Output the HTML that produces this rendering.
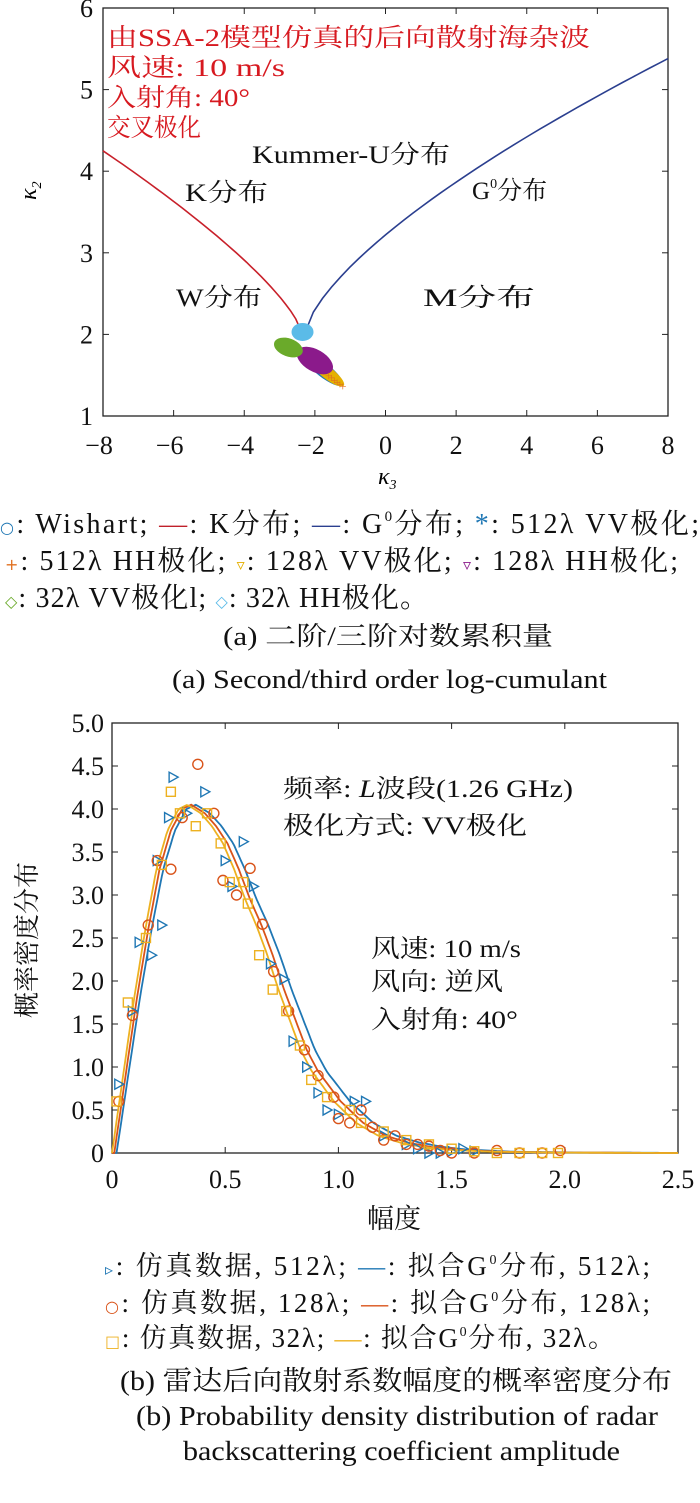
<!DOCTYPE html>
<html><head><meta charset="utf-8"><style>
html,body{margin:0;padding:0;background:#fff;}
body{width:700px;height:1498px;overflow:hidden;position:relative;font-family:"Liberation Serif","Noto Serif CJK SC",serif;}
svg text{font-family:"Liberation Serif","Noto Serif CJK SC",serif;}
.m{font-family:"DejaVu Sans",sans-serif;font-size:16px;}
</style></head><body>
<svg id="s" width="700" height="1498" xmlns="http://www.w3.org/2000/svg">
<g id="top"></g><g id="bot"></g>
<g fill="#d71920" font-size="25">
<text x="107" y="46" textLength="483" lengthAdjust="spacingAndGlyphs">由SSA-2模型仿真的后向散射海杂波</text>
<text x="107" y="76" textLength="178" lengthAdjust="spacingAndGlyphs">风速: 10 m/s</text>
<text x="107" y="106" textLength="143" lengthAdjust="spacingAndGlyphs">入射角: 40°</text>
<text x="107" y="136" textLength="94" lengthAdjust="spacingAndGlyphs">交叉极化</text>
</g>
<g fill="#111" font-size="25">
<text x="252" y="163" textLength="198" lengthAdjust="spacingAndGlyphs">Kummer-U分布</text>
<text x="185" y="201" textLength="83" lengthAdjust="spacingAndGlyphs">K分布</text>
<text x="472" y="199">G<tspan font-size="14" dy="-11">0</tspan><tspan dy="11">分布</tspan></text>
<text x="176" y="306" textLength="86" lengthAdjust="spacingAndGlyphs">W分布</text>
<text x="423" y="306" textLength="112" lengthAdjust="spacingAndGlyphs">M分布</text>
</g>
<text x="20" y="200" font-size="24" font-style="italic" transform="rotate(-90 28 192)">κ<tspan font-size="14" dy="5">2</tspan></text>
<text x="378" y="484" font-size="24" font-style="italic">κ<tspan font-size="14" dy="5">3</tspan></text>
<g font-size="28" fill="#111">
<text x="0" y="533" textLength="699" lengthAdjust="spacing"><tspan class="m" fill="#1f77b4">○</tspan>: Wishart; <tspan fill="#c0202a">—</tspan>: K分布; <tspan fill="#2b3f8f">—</tspan>: G<tspan font-size="15" dy="-12">0</tspan><tspan dy="12">分布; </tspan><tspan fill="#1f77b4">*</tspan>: 512λ VV极化;</text>
<text x="5" y="570" textLength="673" lengthAdjust="spacing"><tspan class="m" fill="#e07020">+</tspan>: 512λ HH极化; <tspan class="m" fill="#e5b000">▿</tspan>: 128λ VV极化; <tspan class="m" fill="#8b1a8b">▿</tspan>: 128λ HH极化;</text>
<text x="5" y="607" textLength="423" lengthAdjust="spacing"><tspan class="m" fill="#6aaa2a">◇</tspan>: 32λ VV极化l; <tspan class="m" fill="#5bbbe8">◇</tspan>: 32λ HH极化。</text>
<text x="223" y="645" font-size="26" textLength="330" lengthAdjust="spacingAndGlyphs">(a) 二阶/三阶对数累积量</text>
<text x="172" y="688" font-size="26" textLength="435" lengthAdjust="spacingAndGlyphs">(a) Second/third order log-cumulant</text>
</g>
<g fill="#111" font-size="25">
<text x="283" y="797" textLength="290" lengthAdjust="spacingAndGlyphs">频率: <tspan font-style="italic">L</tspan>波段(1.26 GHz)</text>
<text x="283" y="834" textLength="244" lengthAdjust="spacingAndGlyphs">极化方式: VV极化</text>
<text x="371" y="957" textLength="150" lengthAdjust="spacingAndGlyphs">风速: 10 m/s</text>
<text x="371" y="990" textLength="132" lengthAdjust="spacingAndGlyphs">风向: 逆风</text>
<text x="371" y="1028" textLength="147" lengthAdjust="spacingAndGlyphs">入射角: 40°</text>
<text x="394" y="1228" text-anchor="middle" font-size="27">幅度</text>
<text x="36" y="940" text-anchor="middle" font-size="26" transform="rotate(-90 36 940)">概率密度分布</text>
</g>
<g font-size="27" fill="#111">
<text x="105" y="1275" textLength="545" lengthAdjust="spacing"><tspan class="m" fill="#1f77b4">▹</tspan>: 仿真数据, 512λ; <tspan fill="#1f77b4">—</tspan>: 拟合G<tspan font-size="14" dy="-11">0</tspan><tspan dy="11">分布, 512λ;</tspan></text>
<text x="105" y="1312" textLength="545" lengthAdjust="spacing"><tspan class="m" fill="#d95319">○</tspan>: 仿真数据, 128λ; <tspan fill="#d95319">—</tspan>: 拟合G<tspan font-size="14" dy="-11">0</tspan><tspan dy="11">分布, 128λ;</tspan></text>
<text x="105" y="1347" textLength="510" lengthAdjust="spacing"><tspan class="m" fill="#edb120">□</tspan>: 仿真数据, 32λ; <tspan fill="#edb120">—</tspan>: 拟合G<tspan font-size="14" dy="-11">0</tspan><tspan dy="11">分布, 32λ。</tspan></text>
<text x="120" y="1390" textLength="552" lengthAdjust="spacingAndGlyphs">(b) 雷达后向散射系数幅度的概率密度分布</text>
<text x="136" y="1425" textLength="522" lengthAdjust="spacingAndGlyphs">(b) Probability density distribution of radar</text>
<text x="183" y="1460" textLength="437" lengthAdjust="spacingAndGlyphs">backscattering coefficient amplitude</text>
</g>
</svg>
<script>
var NS="http://www.w3.org/2000/svg";
function el(p,t,a){var e=document.createElementNS(NS,t);for(var k in a)e.setAttribute(k,a[k]);p.appendChild(e);return e;}
var T=document.getElementById("top");
var X0=103,X1=668,Y0=416,Y1=8;
function tx(v){return X0+(v+8)/16*(X1-X0);} function ty(v){return Y0-(v-1)/5*(Y0-Y1);}
el(T,"rect",{x:X0,y:Y1,width:X1-X0,height:Y0-Y1,fill:"none",stroke:"#222","stroke-width":1.3});
for(var v=-8;v<=8;v+=2){var x=tx(v);el(T,"line",{x1:x,y1:Y0,x2:x,y2:Y0-6,stroke:"#222"});el(T,"line",{x1:x,y1:Y1,x2:x,y2:Y1+6,stroke:"#222"});
var t=el(T,"text",{x:x-(v<0?4:0),y:Y0+38,"font-size":26,"text-anchor":"middle",fill:"#111"});t.textContent=(v<0?"−":"")+Math.abs(v);}
for(var v=1;v<=6;v++){var y=ty(v);el(T,"line",{x1:X0,y1:y,x2:X0+6,y2:y,stroke:"#222"});el(T,"line",{x1:X1,y1:y,x2:X1-6,y2:y,stroke:"#222"});
var t=el(T,"text",{x:X0-10,y:y+9,"font-size":26,"text-anchor":"end",fill:"#111"});t.textContent=v;}
var d="";for(var i=0;i<=40;i++){var u=i/40;var k3=-8+u*5.6;var k2=2.05+2.2*Math.pow(1-u,0.75);d+=(i?"L":"M")+tx(k3).toFixed(1)+","+ty(k2).toFixed(1);}
el(T,"path",{d:d,fill:"none",stroke:"#c8202a","stroke-width":1.6});
d="";for(var i=0;i<=40;i++){var u=i/40;var k3=-2.3+u*10.3;var k2=2.0+3.38*Math.pow(u,0.68);d+=(i?"L":"M")+tx(k3).toFixed(1)+","+ty(k2).toFixed(1);}
el(T,"path",{d:d,fill:"none",stroke:"#2b3f8f","stroke-width":1.6});
function blob(cx,cy,rx,ry,rot,col){el(T,"ellipse",{cx:tx(cx),cy:ty(cy),rx:rx,ry:ry,fill:col,transform:"rotate("+rot+" "+tx(cx)+" "+ty(cy)+")"});}
blob(-1.75,1.56,24,7,38,"#1f77b4");
blob(-1.65,1.53,21,6,38,"#e5b000");
blob(-2.0,1.68,20,11,30,"#8b1a8b");
blob(-2.75,1.84,15,9,20,"#6aaa2a");
blob(-2.35,2.03,11,9,0,"#5bbbe8");
for(var i=0;i<6;i++){var x=tx(-1.6+i*0.08),y=ty(1.5-i*0.025);el(T,"text",{x:x-4,y:y+5,"font-size":13,fill:"#e07020"}).textContent="+";}
var B=document.getElementById("bot");
var A0=112,A1=678,B0=1153,B1=723;
function bx(v){return A0+v/2.5*(A1-A0);} function by(v){return B0-v/5*(B0-B1);}
el(B,"rect",{x:A0,y:B1,width:A1-A0,height:B0-B1,fill:"none",stroke:"#222","stroke-width":1.3});
var xl=["0","0.5","1.0","1.5","2.0","2.5"];
for(var i=0;i<=5;i++){var x=bx(i*0.5);el(B,"line",{x1:x,y1:B0,x2:x,y2:B0-6,stroke:"#222"});el(B,"line",{x1:x,y1:B1,x2:x,y2:B1+6,stroke:"#222"});
el(B,"text",{x:x,y:B0+35,"font-size":26,"text-anchor":"middle",fill:"#111"}).textContent=xl[i];}
for(var i=0;i<=10;i++){var y=by(i*0.5);el(B,"line",{x1:A0,y1:y,x2:A0+6,y2:y,stroke:"#222"});el(B,"line",{x1:A1,y1:y,x2:A1-6,y2:y,stroke:"#222"});
el(B,"text",{x:A0-8,y:y+9,"font-size":26,"text-anchor":"end",fill:"#111"}).textContent=(i==0?"0":(i*0.5).toFixed(1));}
var P=[[0,0],[0.05,0.9],[0.1,1.8],[0.15,2.6],[0.2,3.3],[0.25,3.75],[0.3,4.0],[0.34,4.05],[0.4,3.95],[0.45,3.8],[0.5,3.6],[0.55,3.3],[0.6,2.95],[0.65,2.65],[0.7,2.3],[0.75,1.9],[0.8,1.55],[0.85,1.2],[0.9,0.95],[1.0,0.6],[1.1,0.35],[1.2,0.2],[1.3,0.12],[1.4,0.07],[1.5,0.04],[1.7,0.015],[2.0,0.005],[2.5,0]];
function f(x,s,a){if(x<=s)return 0;var xx=(x-s)*a;for(var i=1;i<P.length;i++){if(xx<=P[i][0]){var p=P[i-1],q=P[i];return p[1]+(q[1]-p[1])*(xx-p[0])/(q[0]-p[0]);}}return 0;}
function curve(s,a,col){var d="";for(var i=0;i<=250;i++){var x=i/100;d+=(i?"L":"M")+bx(x).toFixed(1)+","+by(f(x,s,a)).toFixed(1);}el(B,"path",{d:d,fill:"none",stroke:col,"stroke-width":1.8});}
var bl=[[0.03,0.8],[0.09,1.65],[0.12,2.45],[0.175,2.3],[0.22,2.65],[0.2,3.4],[0.25,3.9],[0.27,4.37],[0.33,3.95],[0.41,4.2],[0.5,3.4],[0.53,3.1],[0.58,3.62],[0.625,3.1],[0.7,2.2],[0.76,2.02],[0.8,1.3],[0.86,1.0],[0.91,0.7],[0.95,0.5],[1.07,0.6],[1.12,0.6],[1.0,0.45],[1.2,0.2],[1.3,0.1],[1.35,0.05],[1.4,0.0],[1.45,0.0],[1.5,0.02],[1.55,0.05],[1.6,0.02]];
var rd=[[0.03,0.6],[0.09,1.6],[0.16,2.65],[0.2,3.4],[0.26,3.3],[0.31,3.9],[0.379,4.52],[0.45,3.95],[0.49,3.17],[0.55,3.0],[0.61,3.31],[0.665,2.66],[0.714,2.11],[0.78,1.65],[0.85,1.2],[0.91,0.9],[0.98,0.65],[1.0,0.4],[1.05,0.35],[1.1,0.5],[1.15,0.3],[1.2,0.15],[1.25,0.2],[1.3,0.1],[1.35,0.1],[1.4,0.08],[1.45,0.03],[1.5,0.0],[1.6,0.0],[1.7,0.03],[1.8,0.0],[1.9,0.0],[1.98,0.03]];
var yl=[[0.02,0.6],[0.07,1.75],[0.15,2.5],[0.22,3.35],[0.26,4.2],[0.3,3.95],[0.37,3.8],[0.42,3.95],[0.48,3.6],[0.52,3.15],[0.58,3.15],[0.6,2.9],[0.65,2.3],[0.71,1.9],[0.77,1.65],[0.83,1.25],[0.88,0.85],[0.95,0.65],[1.05,0.5],[1.1,0.35],[1.2,0.25],[1.3,0.15],[1.4,0.1],[1.5,0.05],[1.6,0.02],[1.7,0.0],[1.8,0.0],[1.9,0.0],[1.97,0.0]];
curve(0.02,0.97,"#1f77b4");curve(0.01,1.0,"#d95319");curve(0,1.02,"#edb120");
bl.forEach(function(p){var x=bx(p[0]),y=by(p[1]);el(B,"path",{d:"M"+(x-4)+","+(y-5)+"L"+(x+5)+","+y+"L"+(x-4)+","+(y+5)+"Z",fill:"none",stroke:"#1f77b4","stroke-width":1.4});});
rd.forEach(function(p){el(B,"circle",{cx:bx(p[0]),cy:by(p[1]),r:5,fill:"none",stroke:"#d95319","stroke-width":1.4});});
yl.forEach(function(p){var x=bx(p[0]),y=by(p[1]);el(B,"rect",{x:x-4.5,y:y-4.5,width:9,height:9,fill:"none",stroke:"#edb120","stroke-width":1.4});});
</script>
</body></html>
